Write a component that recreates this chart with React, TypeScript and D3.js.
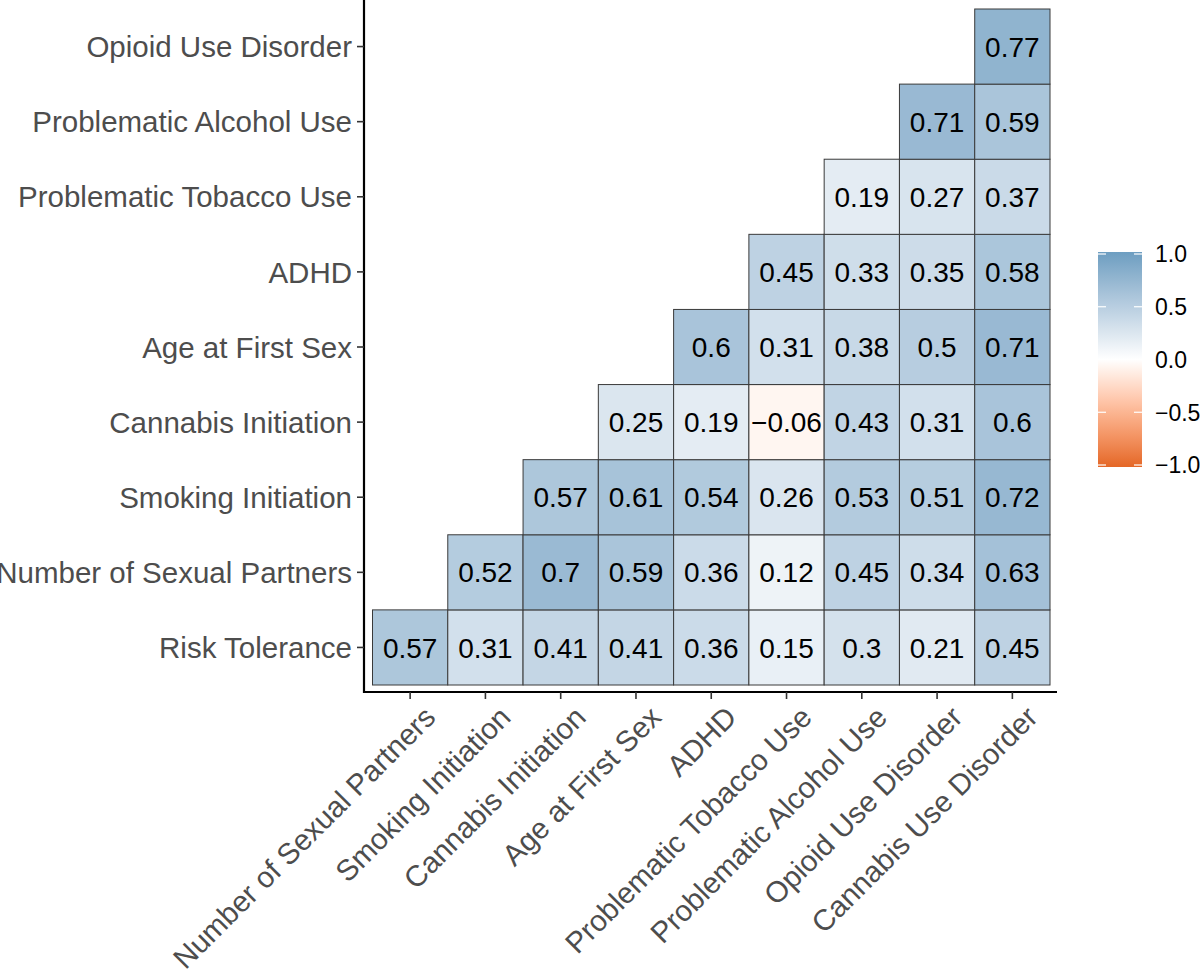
// Correlation heatmap (upper triangle) with D3
import React, { useEffect, useRef } from 'react';
import * as d3 from 'd3';

const xCategories = [
  'Number of Sexual Partners',
  'Smoking Initiation',
  'Cannabis Initiation',
  'Age at First Sex',
  'ADHD',
  'Problematic Tobacco Use',
  'Problematic Alcohol Use',
  'Opioid Use Disorder',
  'Cannabis Use Disorder',
];

// bottom to top
const yCategories = [
  'Risk Tolerance',
  'Number of Sexual Partners',
  'Smoking Initiation',
  'Cannabis Initiation',
  'Age at First Sex',
  'ADHD',
  'Problematic Tobacco Use',
  'Problematic Alcohol Use',
  'Opioid Use Disorder',
];

// one list per y row, values start at the column with the same index
const riskTolerance = [0.57, 0.31, 0.41, 0.41, 0.36, 0.15, 0.3, 0.21, 0.45];
const sexualPartners = [0.52, 0.7, 0.59, 0.36, 0.12, 0.45, 0.34, 0.63];
const smokingInit = [0.57, 0.61, 0.54, 0.26, 0.53, 0.51, 0.72];
const cannabisInit = [0.25, 0.19, -0.06, 0.43, 0.31, 0.6];
const ageFirstSex = [0.6, 0.31, 0.38, 0.5, 0.71];
const adhd = [0.45, 0.33, 0.35, 0.58];
const tobaccoUse = [0.19, 0.27, 0.37];
const alcoholUse = [0.71, 0.59];
const opioidUse = [0.77];

const rowValues = [
  riskTolerance, sexualPartners, smokingInit, cannabisInit, ageFirstSex,
  adhd, tobaccoUse, alcoholUse, opioidUse,
];

const legendTicks = [1, 0.5, 0, -0.5, -1];

const fmt = (v: number) => {
  const s = String(v);
  return v < 0 ? '\u2212' + s.slice(1) : s;
};

const App = () => {
  const svgRef = useRef<SVGSVGElement>(null);

  useEffect(() => {
    if (!svgRef.current) return;
    const svg = d3.select(svgRef.current);
    svg.selectAll('*').remove();

    const font = "'Liberation Sans', Arial, Helvetica, sans-serif";
    const panel = { left: 364, right: 1057, top: 0, bottom: 692 };

    const x = d3.scaleBand().domain(xCategories).range([372.5, 1050]);
    const y = d3.scaleBand().domain([...yCategories].reverse()).range([9, 685]);

    const color = d3.scaleLinear<string>()
      .domain([-1, 0, 1])
      .range(['#E46726', '#FFFFFF', '#6D9EC1'])
      .interpolate(d3.interpolateLab);

    const cells: { row: string; col: string; v: number }[] = [];
    rowValues.forEach((vals, i) => {
      vals.forEach((v, k) => {
        cells.push({ row: yCategories[i], col: xCategories[i + k], v });
      });
    });

    const g = svg.append('g');

    g.selectAll('rect.cell')
      .data(cells)
      .enter()
      .append('rect')
      .attr('class', 'cell')
      .attr('x', d => x(d.col) || 0)
      .attr('y', d => y(d.row) || 0)
      .attr('width', x.bandwidth())
      .attr('height', y.bandwidth())
      .attr('fill', d => color(d.v))
      .attr('stroke', '#3a3a3a')
      .attr('stroke-width', 1);

    g.selectAll('text.val')
      .data(cells)
      .enter()
      .append('text')
      .attr('class', 'val')
      .attr('x', d => (x(d.col) || 0) + x.bandwidth() / 2)
      .attr('y', d => (y(d.row) || 0) + y.bandwidth() / 2)
      .attr('text-anchor', 'middle')
      .attr('dy', '0.36em')
      .attr('font-family', font)
      .attr('font-size', 28)
      .attr('fill', '#000')
      .text(d => fmt(d.v));

    // axes lines
    g.append('line')
      .attr('x1', panel.left).attr('x2', panel.left)
      .attr('y1', panel.top).attr('y2', panel.bottom + 1)
      .attr('stroke', '#000').attr('stroke-width', 2.2);
    g.append('line')
      .attr('x1', panel.left - 1).attr('x2', panel.right)
      .attr('y1', panel.bottom).attr('y2', panel.bottom)
      .attr('stroke', '#000').attr('stroke-width', 2.2);

    // y ticks and labels
    const yAxis = g.selectAll('g.ytick')
      .data(yCategories)
      .enter()
      .append('g')
      .attr('class', 'ytick')
      .attr('transform', d => `translate(0,${(y(d) || 0) + y.bandwidth() / 2})`);
    yAxis.append('line')
      .attr('x1', panel.left - 7).attr('x2', panel.left)
      .attr('stroke', '#333').attr('stroke-width', 1.6);
    yAxis.append('text')
      .attr('x', panel.left - 12)
      .attr('dy', '0.36em')
      .attr('text-anchor', 'end')
      .attr('font-family', font)
      .attr('font-size', 29.5)
      .attr('fill', '#4D4D4D')
      .text(d => d);

    // x ticks and labels
    const xAxis = g.selectAll('g.xtick')
      .data(xCategories)
      .enter()
      .append('g')
      .attr('class', 'xtick')
      .attr('transform', d => `translate(${(x(d) || 0) + x.bandwidth() / 2},0)`);
    xAxis.append('line')
      .attr('y1', panel.bottom).attr('y2', panel.bottom + 7)
      .attr('stroke', '#333').attr('stroke-width', 1.6);
    xAxis.append('text')
      .attr('transform', `translate(12,${panel.bottom + 12}) rotate(-45)`)
      .attr('dy', '0.72em')
      .attr('text-anchor', 'end')
      .attr('font-family', font)
      .attr('font-size', 29.5)
      .attr('fill', '#4D4D4D')
      .text(d => d);

    // legend colour bar
    const legY = d3.scaleLinear().domain([1, -1]).range([254, 465]);
    const bar = { x: 1098, w: 44, top: 252, bottom: 467 };
    const defs = svg.append('defs');
    const grad = defs.append('linearGradient')
      .attr('id', 'corr-grad')
      .attr('x1', 0).attr('x2', 0).attr('y1', 0).attr('y2', 1);
    d3.range(0, 1.0001, 0.05).forEach(t => {
      grad.append('stop')
        .attr('offset', t)
        .attr('stop-color', color(1 - 2 * t));
    });
    const leg = svg.append('g');
    leg.append('rect')
      .attr('x', bar.x).attr('y', bar.top)
      .attr('width', bar.w).attr('height', bar.bottom - bar.top)
      .attr('fill', 'url(#corr-grad)');
    legendTicks.forEach(t => {
      leg.append('line')
        .attr('x1', bar.x).attr('x2', bar.x + 8)
        .attr('y1', legY(t)).attr('y2', legY(t))
        .attr('stroke', '#fff').attr('stroke-width', 1.2);
      leg.append('line')
        .attr('x1', bar.x + bar.w - 8).attr('x2', bar.x + bar.w)
        .attr('y1', legY(t)).attr('y2', legY(t))
        .attr('stroke', '#fff').attr('stroke-width', 1.2);
      leg.append('text')
        .attr('x', 1155)
        .attr('y', legY(t))
        .attr('dy', '0.36em')
        .attr('font-family', font)
        .attr('font-size', 23)
        .attr('fill', '#000')
        .text(t.toFixed(1).replace('-', '\u2212'));
    });
  }, []);

  return (
    <svg
      ref={svgRef}
      width={1200}
      height={970}
      style={{ position: 'absolute', left: 0, top: 0, background: '#fff' }}
    />
  );
};

export default App;
